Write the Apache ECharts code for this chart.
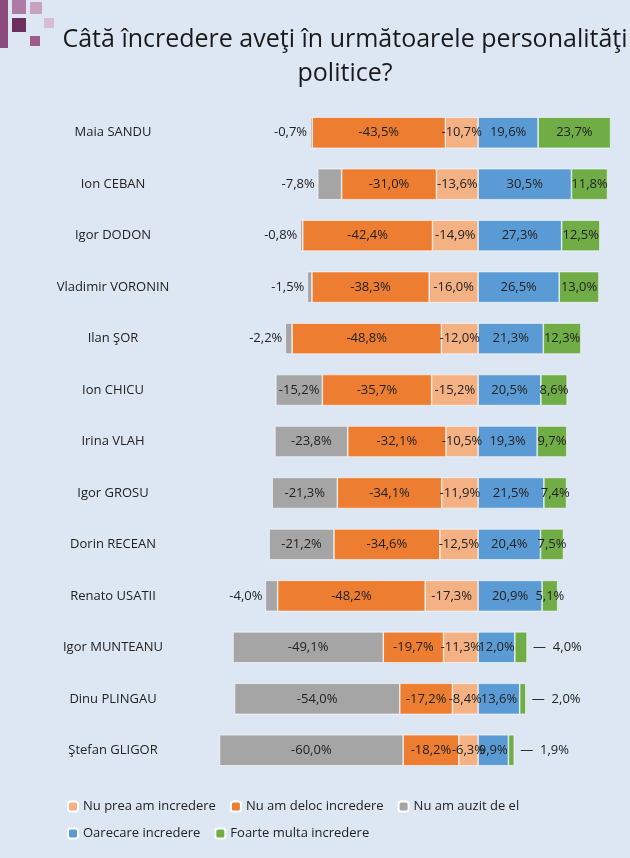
<!DOCTYPE html>
<html>
<head>
<meta charset="utf-8">
<script src="https://cdn.jsdelivr.net/npm/echarts@6/dist/echarts.min.js"></script>
<style>
  html, body { margin: 0; padding: 0; background: #dde7f3; }
  #chart { width: 630px; height: 858px; }
</style>
</head>
<body>
<div id="chart"></div>
<script>
"use strict";
const names = ["Maia SANDU", "Ion CEBAN", "Igor DODON", "Vladimir VORONIN", "Ilan ŞOR", "Ion CHICU", "Irina VLAH",
    "Igor GROSU", "Dorin RECEAN", "Renato USATII", "Igor MUNTEANU", "Dinu PLINGAU", "Ştefan GLIGOR"];
const nuPrea = [10.7, 13.6, 14.9, 16.0, 12.0, 15.2, 10.5, 11.9, 12.5, 17.3, 11.3, 8.4, 6.3];
const deloc = [43.5, 31.0, 42.4, 38.3, 48.8, 35.7, 32.1, 34.1, 34.6, 48.2, 19.7, 17.2, 18.2];
const auzit = [0.7, 7.8, 0.8, 1.5, 2.2, 15.2, 23.8, 21.3, 21.2, 4.0, 49.1, 54.0, 60.0];
const oarecare = [19.6, 30.5, 27.3, 26.5, 21.3, 20.5, 19.3, 21.5, 20.4, 20.9, 12.0, 13.6, 9.9];
const foarte = [23.7, 11.8, 12.5, 13.0, 12.3, 8.6, 9.7, 7.4, 7.5, 5.1, 4.0, 2.0, 1.9];

const fmt = (v) => v.toFixed(1).replace(".", ",") + "%";
const labelBase = { show: true, color: "#222", fontSize: 13, fontFamily: "Open Sans" };

const makeSeries = (name, values, color, negative, smallLimit, smallPos) => ({
    name,
    type: "bar",
    stack: "total",
    barWidth: 31,
    itemStyle: { color, borderColor: "#ffffff", borderWidth: 0.6 },
    label: { ...labelBase, formatter: (p) => fmt(p.value) },
    data: values.map((v) => {
        const item = { value: negative ? -v : v };
        if (v < smallLimit) {
            item.label = {
                position: smallPos, distance: smallPos === "right" ? 6 : 3,
                formatter: (p) => (smallPos === "right" ? "—  " : "") + fmt(p.value),
            };
        }
        return item;
    }),
});

const chart = echarts.init(document.getElementById("chart"));
chart.setOption({
    backgroundColor: "#dde7f3",
    animation: false,
    title: {
        text: "Câtă încredere aveţi în următoarele personalităţi\npolitice?",
        left: 340, top: 18, textAlign: "center",
        textStyle: { fontSize: 25, fontWeight: "normal", color: "#1a1a1a", fontFamily: "Open Sans", lineHeight: 34 },
    },
    graphic: [
        { type: "rect", shape: { x: 0, y: 0, width: 8, height: 48 }, style: { fill: "#8a4a7a" } },
        { type: "rect", shape: { x: 12, y: 0, width: 14, height: 14 }, style: { fill: "#b07aa6" } },
        { type: "rect", shape: { x: 12, y: 18, width: 14, height: 14 }, style: { fill: "#6e2f5f" } },
        { type: "rect", shape: { x: 30, y: 2, width: 12, height: 12 }, style: { fill: "#c9a2c2" } },
        { type: "rect", shape: { x: 30, y: 36, width: 10, height: 10 }, style: { fill: "#9c5d8d" } },
        { type: "rect", shape: { x: 44, y: 18, width: 10, height: 10 }, style: { fill: "#d8bcd3" } },
    ],
    legend: [
        {
            data: ["Nu prea am incredere", "Nu am deloc incredere", "Nu am auzit de el"],
            left: 62, top: 795, itemWidth: 10, itemHeight: 10, itemGap: 14,
            textStyle: { fontSize: 13, color: "#222", fontFamily: "Open Sans" },
        },
        {
            data: ["Oarecare incredere", "Foarte multa incredere"],
            left: 62, top: 822, itemWidth: 10, itemHeight: 10, itemGap: 14,
            textStyle: { fontSize: 13, color: "#222", fontFamily: "Open Sans" },
        },
    ],
    grid: { left: 218, top: 107, width: 407, height: 669 },
    xAxis: { type: "value", min: -85, max: 48, show: false },
    yAxis: {
        type: "category", data: names, inverse: true,
        axisLine: { show: false }, axisTick: { show: false },
        axisLabel: { align: "center", margin: 105, fontSize: 13, color: "#222", fontFamily: "Open Sans" },
    },
    series: [
        makeSeries("Nu prea am incredere", nuPrea, "#f4b183", true, 0, "left"),
        makeSeries("Nu am deloc incredere", deloc, "#ed7d31", true, 0, "left"),
        makeSeries("Nu am auzit de el", auzit, "#a5a5a5", true, 9, "left"),
        makeSeries("Oarecare incredere", oarecare, "#5b9bd5", false, 0, "right"),
        makeSeries("Foarte multa incredere", foarte, "#70ad47", false, 4.5, "right"),
    ],
});
</script>
</body>
</html>
